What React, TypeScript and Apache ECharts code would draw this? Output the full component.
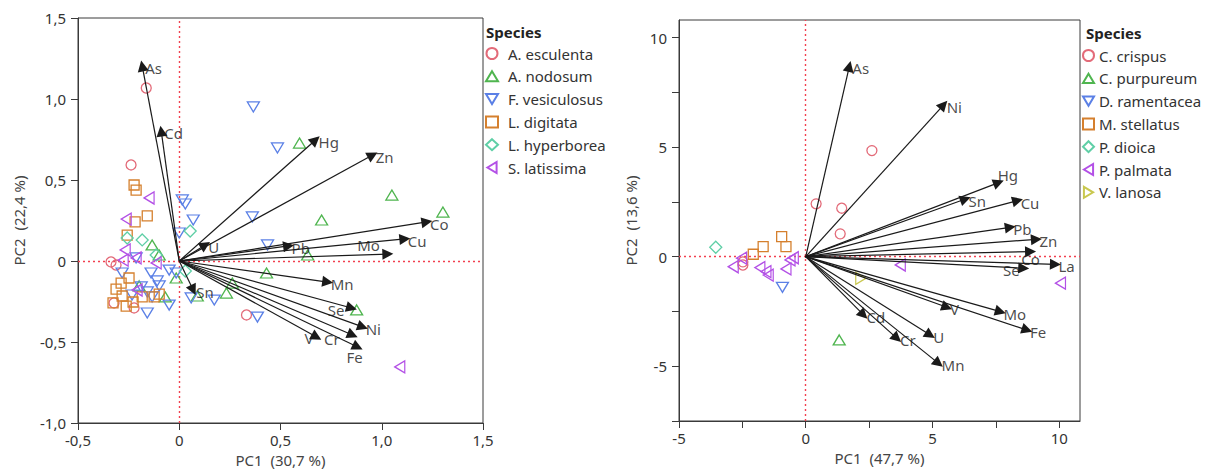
import React, { useEffect, useRef } from "react";
import * as echarts from "echarts";

// ---------- Left biplot (brown algae) ----------
const leftSpecies = ["A. esculenta", "A. nodosum", "F. vesiculosus", "L. digitata", "L. hyperborea", "S. latissima"];

const leftAesculenta = [[-0.163, 1.068], [-0.238, 0.593], [-0.337, -0.006], [-0.312, -0.025], [-0.322, -0.259], [-0.223, -0.29], [0.332, -0.333]];
const leftAnodosum = [[0.594, 0.728], [1.05, 0.407], [1.302, 0.302], [0.703, 0.253], [0.634, 0.037], [0.431, -0.074], [0.262, -0.136], [0.233, -0.198], [0.089, -0.216], [0.876, -0.302], [-0.134, 0.099], [-0.099, 0.037], [-0.015, -0.105], [-0.198, -0.154], [-0.069, -0.222]];
const leftFvesiculosus = [[0.366, 0.951], [0.485, 0.698], [0.015, 0.377], [0.03, 0.352], [0.069, 0.253], [0.361, 0.272], [0.0, 0.173], [0.436, 0.099], [-0.213, 0.019], [-0.282, -0.074], [-0.139, -0.074], [-0.05, -0.056], [-0.015, -0.074], [-0.109, -0.123], [-0.188, -0.16], [-0.099, -0.154], [-0.158, -0.191], [-0.134, -0.222], [-0.233, -0.21], [-0.05, -0.272], [-0.158, -0.321], [0.059, -0.228], [0.173, -0.241], [0.386, -0.346]];
const leftLdigitata = [[-0.223, 0.469], [-0.213, 0.438], [-0.158, 0.278], [-0.218, 0.241], [-0.257, 0.16], [-0.248, -0.105], [-0.287, -0.136], [-0.312, -0.173], [-0.282, -0.216], [-0.327, -0.259], [-0.262, -0.278], [-0.228, -0.253], [-0.183, -0.222], [-0.124, -0.222], [-0.099, -0.204]];
const leftLhyperborea = [[-0.257, 0.142], [-0.183, 0.13], [0.054, 0.185], [-0.114, 0.037], [0.03, -0.062]];
const leftSlatissima = [[-0.149, 0.389], [-0.262, 0.259], [-0.267, 0.068], [-0.277, 0.006], [-0.213, 0.019], [-0.114, -0.012], [-0.208, -0.179], [1.089, -0.654]];
const leftScores = [leftAesculenta, leftAnodosum, leftFvesiculosus, leftLdigitata, leftLhyperborea, leftSlatissima];

const leftVariables = ["As", "Cd", "Hg", "Zn", "Co", "Cu", "Mo", "Pb", "U", "Mn", "Se", "Ni", "Cr", "V", "Fe", "Sn"];
const leftLoadings = [[-0.183, 1.204], [-0.089, 0.802], [0.673, 0.747], [0.955, 0.654], [1.223, 0.241], [1.114, 0.136], [1.03, 0.043], [0.54, 0.093], [0.129, 0.099], [0.733, -0.13], [0.851, -0.29], [0.906, -0.407], [0.856, -0.457], [0.678, -0.469], [0.881, -0.531], [0.069, -0.179]];

const leftXTicks = [-0.5, 0, 0.5, 1.0, 1.5];
const leftYTicks = [-1.0, -0.5, 0, 0.5, 1.0, 1.5];

// ---------- Right biplot (red / green algae) ----------
const rightSpecies = ["C. crispus", "C. purpureum", "D. ramentacea", "M. stellatus", "P. dioica", "P. palmata", "V. lanosa"];

const rightCcrispus = [[2.61, 4.84], [0.41, 2.41], [1.42, 2.21], [1.36, 1.04], [-2.48, -0.38], [-2.48, -0.24]];
const rightCpurpureum = [[1.32, -3.8]];
const rightDramentacea = [[-0.92, -1.4]];
const rightMstellatus = [[-0.95, 0.91], [-0.78, 0.46], [-1.68, 0.46], [-2.07, 0.11]];
const rightPdioica = [[-3.55, 0.43]];
const rightPpalmata = [[-2.53, -0.07], [-2.86, -0.46], [-1.81, -0.5], [-1.57, -0.68], [-1.48, -0.84], [-0.62, -0.15], [-0.49, -0.05], [-0.78, -0.56], [3.73, -0.38], [10.05, -1.21]];
const rightVlanosa = [[2.17, -0.99]];
const rightScores = [rightCcrispus, rightCpurpureum, rightDramentacea, rightMstellatus, rightPdioica, rightPpalmata, rightVlanosa];

const rightVariables = ["As", "Ni", "Hg", "Sn", "Cu", "Pb", "Zn", "Co", "La", "Se", "Mo", "Fe", "V", "U", "Mn", "Cr", "Cd"];
const rightLoadings = [[1.72, 8.68], [5.44, 6.93], [7.61, 3.38], [6.3, 2.63], [8.36, 2.56], [8.07, 1.34], [9.1, 0.79], [8.87, 0.23], [9.85, -0.35], [8.6, -0.53], [7.68, -2.51], [8.73, -3.35], [5.57, -2.31], [4.91, -3.58], [5.24, -4.87], [3.6, -3.73], [2.28, -2.66]];

const rightXTicks = [-5, -2.5, 0, 2.5, 5, 7.5, 10];
const rightXLabels = [-5, 0, 5, 10];
const rightYTicks = [-7.5, -5, -2.5, 0, 2.5, 5, 7.5, 10];
const rightYLabels = [-5, 0, 5, 10];

// ---------- styling ----------
const FONT = "'Noto Sans', sans-serif";
const markerStyles = [
  { symbol: "circle", rotate: 0, size: 10, color: "#e36b79", icon: "circle" },
  { symbol: "triangle", rotate: 0, size: [12, 10], color: "#4fb54f", icon: "path://M6,0 L12,10 L0,10 Z" },
  { symbol: "triangle", rotate: 180, size: [12, 10], color: "#5b80e6", icon: "path://M0,0 L12,0 L6,10 Z" },
  { symbol: "rect", rotate: 0, size: 10, color: "#d5802e", icon: "rect" },
  { symbol: "diamond", rotate: 0, size: 12, color: "#5fcfa6", icon: "diamond" },
  { symbol: "triangle", rotate: 90, size: [12, 10], color: "#b350e6", icon: "path://M0,6 L10,0 L10,12 Z" },
  { symbol: "triangle", rotate: -90, size: [12, 10], color: "#c9c84f", icon: "path://M0,0 L10,6 L0,12 Z" },
];

const leftLabelPlace: Record<string, any> = {
  Mo: { position: "left", distance: 8, offset: [0, -9] },
  Se: { position: "left", distance: 7, offset: [0, 2] },
  V: { position: "left", distance: 3, offset: [0, 1] },
  Cr: { position: "left", distance: 13, offset: [0, 4] },
  Fe: { position: "bottom", distance: 2, offset: [-3, 0] },
};
const rightLabelPlace: Record<string, any> = {
  Hg: { position: "right", distance: 0, offset: [-1, -8] },
  Co: { position: "bottom", distance: 0, offset: [0, 0] },
  Se: { position: "left", distance: 4, offset: [0, 2] },
};
const defaultPlace = { position: "right", distance: 3, offset: [0, 2] };

const fmtComma = (v: number) => (v === 0 ? "0" : v.toFixed(1).replace(".", ","));

function axisCommon() {
  return {
    type: "value" as const,
    axisLine: { show: true, onZero: false, lineStyle: { color: "#3a3a3a", width: 1 } },
    axisTick: { show: true, inside: false, length: 7, lineStyle: { color: "#3a3a3a" } },
    splitLine: { show: false },
    nameTextStyle: { fontSize: 15, color: "#444", fontFamily: FONT },
  };
}

function legendData(species: string[]) {
  return species.map((name, s) => ({ name, icon: markerStyles[s].icon }));
}

function buildSeries(species: string[], scores: number[][][], vars: string[], loads: number[][], place: Record<string, any>, idx: number) {
  const out: any[] = [];
  out.push({
    type: "lines",
    coordinateSystem: "cartesian2d",
    xAxisIndex: idx,
    yAxisIndex: idx,
    polyline: false,
    symbol: ["none", "triangle"],
    symbolSize: 11,
    silent: true,
    z: 4,
    lineStyle: { color: "#1a1a1a", width: 1.2, opacity: 1, curveness: 0 },
    data: loads.map((p) => ({ coords: [[0, 0], p] })),
  });
  out.push({
    type: "scatter",
    xAxisIndex: idx,
    yAxisIndex: idx,
    symbolSize: 0,
    silent: true,
    z: 5,
    data: loads.map((p, i) => ({
      value: p,
      name: vars[i],
      label: { show: true, formatter: vars[i], fontSize: 15, color: "#1a1a1a", fontFamily: FONT, ...(place[vars[i]] || defaultPlace) },
    })),
    markLine: {
      silent: true,
      symbol: "none",
      label: { show: false },
      lineStyle: { color: "#f2404f", type: [2, 3], width: 1.4, opacity: 1 },
      data: [{ xAxis: 0 }, { yAxis: 0 }],
      z: 1,
    },
  });
  species.forEach((name, s) => {
    const m = markerStyles[s];
    out.push({
      type: "scatter",
      name,
      xAxisIndex: idx,
      yAxisIndex: idx,
      symbol: m.symbol,
      symbolRotate: m.rotate,
      symbolSize: m.size,
      z: 3,
      itemStyle: { color: "rgba(255,255,255,0)", borderColor: m.color, borderWidth: 1.3, opacity: 1 },
      data: scores[s],
    });
  });
  return out;
}

export default function App() {
  const ref = useRef<HTMLDivElement>(null);
  useEffect(() => {
    if (!ref.current) return;
    const chart = echarts.init(ref.current, null, { renderer: "svg" });
    const ax = axisCommon();
    const option: any = {
      animation: false,
      textStyle: { fontFamily: FONT, fontSize: 15 },
      title: [
        { text: "Species", left: 486, top: 24, padding: 0, textStyle: { fontSize: 15, fontWeight: "bold", color: "#222", fontFamily: FONT } },
        { text: "Species", left: 1086, top: 25, padding: 0, textStyle: { fontSize: 15, fontWeight: "bold", color: "#222", fontFamily: FONT } },
      ],
      legend: [
        {
          data: legendData(leftSpecies), left: 485, top: 46, orient: "vertical", padding: 0,
          itemWidth: 12, itemHeight: 11, itemGap: 7.8, selectedMode: false,
          textStyle: { fontSize: 15, color: "#333", fontFamily: FONT, padding: [0, 0, 0, 5] },
        },
        {
          data: legendData(rightSpecies), left: 1082, top: 48, orient: "vertical", padding: 0,
          itemWidth: 11, itemHeight: 11, itemGap: 7.8, selectedMode: false,
          textStyle: { fontSize: 15, color: "#333", fontFamily: FONT, padding: [0, 0, 0, 0] },
        },
      ],
      grid: [
        { left: 78, top: 18, width: 405, height: 405, show: true, borderColor: "#3a3a3a", borderWidth: 1, containLabel: false },
        { left: 679, top: 20, width: 401, height: 401, show: true, borderColor: "#3a3a3a", borderWidth: 1, containLabel: false },
      ],
      xAxis: [
        {
          ...ax, gridIndex: 0, min: -0.5, max: 1.5, interval: 0.5,
          name: "PC1  (30,7 %)", nameLocation: "middle", nameGap: 29,
          axisTick: { ...ax.axisTick, customValues: leftXTicks },
          axisLabel: { customValues: leftXTicks, formatter: fmtComma, fontSize: 15, color: "#333", margin: 9, fontFamily: FONT },
        },
        {
          ...ax, gridIndex: 1, min: -5, max: 10.82, interval: 2.5,
          name: "PC1  (47,7 %)", nameLocation: "middle", nameGap: 29,
          axisTick: { ...ax.axisTick, customValues: rightXTicks },
          axisLabel: { customValues: rightXLabels, formatter: (v: number) => String(v), fontSize: 15, color: "#333", margin: 9, fontFamily: FONT },
        },
      ],
      yAxis: [
        {
          ...ax, gridIndex: 0, min: -1.0, max: 1.5, interval: 0.5,
          name: "PC2  (22,4 %)", nameLocation: "middle", nameGap: 52, nameRotate: 90,
          axisTick: { ...ax.axisTick, customValues: leftYTicks },
          axisLabel: { customValues: leftYTicks, formatter: fmtComma, fontSize: 15, color: "#333", margin: 12, fontFamily: FONT },
        },
        {
          ...ax, gridIndex: 1, min: -7.5, max: 10.8, interval: 2.5,
          name: "PC2  (13,6 %)", nameLocation: "middle", nameGap: 41, nameRotate: 90,
          axisTick: { ...ax.axisTick, customValues: rightYTicks },
          axisLabel: { customValues: rightYLabels, formatter: (v: number) => String(v), fontSize: 15, color: "#333", margin: 12, fontFamily: FONT },
        },
      ],
      series: [
        ...buildSeries(leftSpecies, leftScores, leftVariables, leftLoadings, leftLabelPlace, 0),
        ...buildSeries(rightSpecies, rightScores, rightVariables, rightLoadings, rightLabelPlace, 1),
      ],
    };
    chart.setOption(option);
    return () => chart.dispose();
  }, []);
  return <div ref={ref} style={{ position: "fixed", left: 0, top: 0, width: 1214, height: 475, background: "#fff" }} />;
}
